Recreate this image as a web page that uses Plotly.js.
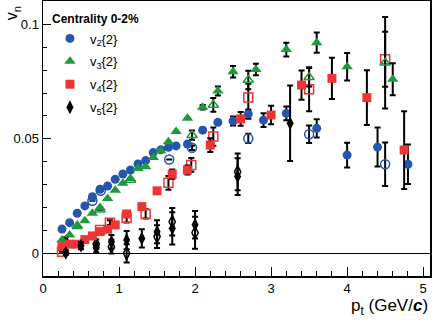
<!DOCTYPE html>
<html><head><meta charset="utf-8">
<script src="https://cdn.plot.ly/plotly-3.0.1.min.js"></script>
<style>html,body{margin:0;padding:0;background:#fff}#c{width:432px;height:325px}</style>
</head><body><div id="c"></div>
<script>
// v2{2}
const v2X = [0.25,0.35,0.45,0.55,0.65,0.75,0.85,0.95,1.05,1.15,1.25,1.35,1.45,1.55,1.65,1.75,1.9,2.1,2.3,2.5,2.7,2.9,3.2,3.6,4.0,4.4,4.8];
const v2Y = [0.0106,0.0134,0.0175,0.0207,0.0247,0.028,0.0294,0.0323,0.0346,0.0364,0.039,0.0405,0.044,0.0452,0.0463,0.0469,0.0477,0.0538,0.0572,0.0578,0.0608,0.0582,0.0611,0.0546,0.0429,0.0464,0.0389];
const v2E = [0,0,0,0,0,0,0,0,0,0,0,0,0,0,0,0,0,0.001,0.001,0.002,0.002,0.003,0.003,0.004,0.0054,0.0085,0.0086];
const v2oX = [0.65,0.76,1.66,1.96,2.7,3.5,4.5];
const v2oY = [0.023,0.0273,0.041,0.0461,0.0502,0.052,0.0389];
const v2oE = [0,0,0,0.001,0.002,0.0038,0.0095];
// v3{2}
const v3X = [0.25,0.35,0.45,0.55,0.65,0.75,0.85,0.95,1.05,1.15,1.25,1.35,1.45,1.55,1.65,1.75,1.9,2.1,2.3,2.5,2.8,3.2,3.6,4.0,4.6];
const v3Y = [0.0058,0.008,0.0116,0.0142,0.0175,0.020,0.024,0.0276,0.0306,0.0327,0.037,0.0378,0.0419,0.0448,0.0487,0.0532,0.059,0.0638,0.0709,0.0793,0.0803,0.089,0.092,0.0815,0.076];
const v3E = [0,0,0,0,0,0,0,0,0,0,0,0,0,0,0,0,0,0.001,0.002,0.0025,0.0025,0.003,0.0044,0.006,0.007];
const v3oX = [0.45,0.75,1.15,1.96,2.24,2.7,3.5,4.5];
const v3oY = [0.012,0.019,0.032,0.0516,0.0648,0.0757,0.0769,0.0832];
const v3oE = [0,0,0,0.002,0.003,0.004,0.004,0.02];
// v4{2}
const v4X = [0.25,0.35,0.45,0.55,0.65,0.75,0.85,0.95,1.1,1.3,1.5,1.7,1.9,2.2,2.6,3.0,3.4,3.8,4.26,4.75];
const v4Y = [0.0029,0.004,0.004,0.006,0.0076,0.0095,0.0105,0.0124,0.0172,0.0204,0.0273,0.0346,0.0364,0.0473,0.0587,0.0604,0.0735,0.0764,0.068,0.0451];
const v4E = [0,0,0,0,0,0,0,0,0.001,0.001,0.001,0.002,0.002,0.003,0.003,0.004,0.0064,0.009,0.012,0.017];
const v4oX = [0.25,0.75,0.88,1.1,1.35,1.65,1.95,2.24,2.7,3.5,4.5];
const v4oY = [0.0007,0.0102,0.0134,0.0155,0.0172,0.0308,0.0386,0.051,0.0681,0.0717,0.0848];
const v4oE = [0,0,0.001,0.002,0.002,0.003,0.003,0.004,0.006,0.0096,0.012];
// v5{2}
const v5X = [0.3,0.5,0.7,0.9,1.1,1.3,1.5,1.7,2.0,2.56,3.25];
const v5Y = [0.0003,0.0033,0.0025,0.005,0.0058,0.0065,0.0094,0.0109,0.0125,0.0335,0.0568];
const v5E = [0.001,0.0015,0.002,0.003,0.004,0.004,0.005,0.007,0.006,0.008,0.0165];
const v5oX = [0.3,0.7,0.9,1.1,1.5,1.7,2.0,2.56];
const v5oY = [0.005,0.004,0.0029,0.0,0.0073,0.0138,0.009,0.0356];
const v5oE = [0.002,0.002,0.003,0.004,0.005,0.006,0.007,0.008];

const legendNames = ['v<sub>2</sub>{2}','v<sub>3</sub>{2}','v<sub>4</sub>{2}','v<sub>5</sub>{2}'];
const colBlue = '#2456ad', colGreen = '#1c9a3c', colRed = '#ee3535', colBlack = '#000000';

function eb(arr){ return {type:'data', array:arr, visible:true, color:'#000', thickness:2, width:3}; }
function tr(x,y,e,sym,col,size,name,show,grp){
  const open = sym.indexOf('open')>=0;
  return {type:'scatter', mode:'markers', x:x, y:y, error_y:eb(e), name:name, showlegend:show, legendgroup:grp,
    marker:{symbol:sym, size:size, color:col, line:{color:col, width: open?1.5:0}}};
}
const data = [
  tr(v5oX,v5oY,v5oE,'diamond-tall-open',colBlack,9,'',false,'o5'),
  tr(v4oX,v4oY,v4oE,'square-open',colRed,9,'',false,'o4'),
  tr(v3oX,v3oY,v3oE,'triangle-up-open',colGreen,9,'',false,'o3'),
  tr(v2oX,v2oY,v2oE,'circle-open',colBlue,9,'',false,'o2'),
  tr(v2X,v2Y,v2E,'circle',colBlue,9,legendNames[0],true,'g2'),
  tr(v3X,v3Y,v3E,'triangle-up',colGreen,10,legendNames[1],true,'g3'),
  tr(v4X,v4Y,v4E,'square',colRed,9,legendNames[2],true,'g4'),
  tr(v5X,v5Y,v5E,'diamond-tall',colBlack,10,legendNames[3],true,'g5')
];
const FONT = 'Liberation Sans, Arial, sans-serif';
const layout = {
  width:432, height:325,
  margin:{l:43, r:2, t:1, b:49},
  paper_bgcolor:'#fff', plot_bgcolor:'#fff',
  font:{family:FONT, color:'#000', size:13},
  xaxis:{range:[0,5.09], dtick:1, tick0:0, ticks:'inside', ticklen:9, tickwidth:1, tickcolor:'#000',
    showline:true, linecolor:'#000', linewidth:1.5, mirror:true, showgrid:false, zeroline:false,
    tickfont:{size:13, family:FONT},
    minor:{dtick:0.2, tick0:0, ticks:'inside', ticklen:5, tickcolor:'#000', tickwidth:1}},
  yaxis:{range:[-0.0099,0.1102], tickvals:[0,0.05,0.1], ticktext:['0','0.05','0.1'], ticks:'inside', ticklen:8, tickwidth:1, tickcolor:'#000',
    showline:true, linecolor:'#000', linewidth:1.5, mirror:true, showgrid:false,
    zeroline:true, zerolinecolor:'#000', zerolinewidth:1.2,
    tickfont:{size:13, family:FONT},
    minor:{dtick:0.01, tick0:0, ticks:'inside', ticklen:4, tickcolor:'#000', tickwidth:1}},
  showlegend:true,
  legend:{x:0.018, y:0.975, xanchor:'left', yanchor:'top', bgcolor:'rgba(0,0,0,0)',
    title:{text:'<b>Centrality 0-2%</b>', font:{size:12, family:FONT}},
    font:{size:13, family:FONT}, traceorder:'grouped', tracegroupgap:3},
  annotations:[
    {text:'v<sub>n</sub>', xref:'paper', yref:'paper', x:-0.078, y:0.955, textangle:-90, showarrow:false, font:{size:16, family:FONT}, xanchor:'center', yanchor:'middle'},
    {text:'p<sub>t</sub> (GeV/<b><i>c</i></b>)', xref:'paper', yref:'paper', x:1.0, y:-0.112, xanchor:'right', yanchor:'middle', showarrow:false, font:{size:17, family:FONT}}
  ]
};
Plotly.newPlot('c', data, layout, {displayModeBar:false, staticPlot:true});
</script></body></html>
